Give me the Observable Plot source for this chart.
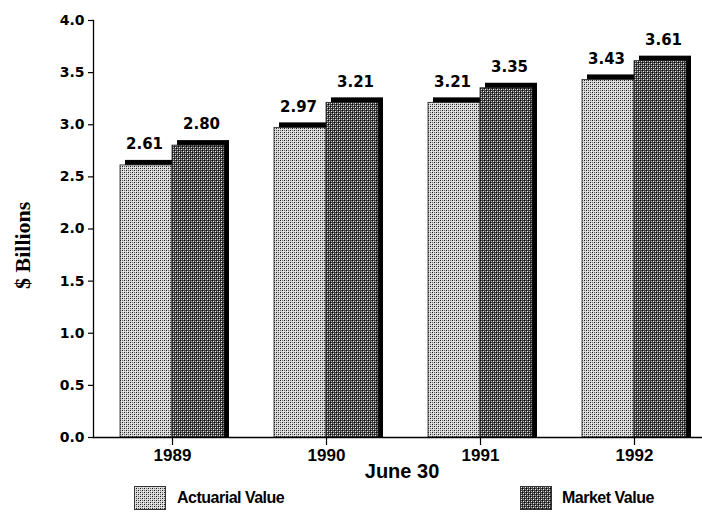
<!DOCTYPE html>
<html>
<head>
<meta charset="utf-8">
<script src="https://cdn.jsdelivr.net/npm/d3@7"></script>
<script src="https://cdn.jsdelivr.net/npm/@observablehq/plot@0.6"></script>
<style>
  body { margin: 0; background: #fff; width: 702px; }
  #legend { position: relative; height: 26px; width: 702px;
    font-family: "Liberation Sans", Arial, sans-serif; font-weight: bold; font-size: 16px; letter-spacing: -0.5px; color: #000; }
  #legend .sw { position: absolute; top: 0px; width: 32px; height: 24px; }
  #legend .lb { position: absolute; top: 3px; line-height: 18px; white-space: nowrap; }
</style>
</head>
<body>
<div id="chart"></div>
<div id="legend"></div>
<script>
// ---- data ----
const years = ["1989", "1990", "1991", "1992"];
const actuarial = [2.61, 2.97, 3.21, 3.43];
const market = [2.80, 3.21, 3.35, 3.61];
const seriesNames = ["Actuarial Value", "Market Value"];
const yTicks = [0, 0.5, 1.0, 1.5, 2.0, 2.5, 3.0, 3.5, 4.0];
const xTitle = "June 30";
const yTitle = "$ Billions";

const act = years.map((y, i) => ({year: y, value: actuarial[i]}));
const mkt = years.map((y, i) => ({year: y, value: market[i]}));

const fillA = "url(#patA)";
const fillM = "url(#patM)";
const numFont = "DejaVu Sans";

const chart = Plot.plot({
  width: 702,
  height: 486,
  marginLeft: 93,
  marginRight: 0,
  marginTop: 20,
  marginBottom: 49,
  style: {background: "#fff", color: "#000"},
  x: {domain: years, range: [120, 686], paddingInner: 0.3247, paddingOuter: 0, axis: null},
  y: {domain: [0, 4], axis: null},
  marks: [
    // 3D black shadow (top cap + right side)
    Plot.barY(act, {x: "year", y: "value", fill: "#000", insetRight: 52, insetBottom: -5, dx: 5, dy: -5}),
    Plot.barY(mkt, {x: "year", y: "value", fill: "#000", insetLeft: 52, insetBottom: -5, dx: 5, dy: -5}),
    // front faces
    Plot.barY(act, {x: "year", y: "value", fill: fillA, stroke: "#222", strokeWidth: 0.8, insetRight: 52}),
    Plot.barY(mkt, {x: "year", y: "value", fill: fillM, stroke: "#222", strokeWidth: 0.8, insetLeft: 52}),
    // axes
    Plot.ruleY([0], {stroke: "#000", strokeWidth: 1.3}),
    Plot.frame({anchor: "left", stroke: "#000", strokeWidth: 1.3}),
    Plot.axisY({ticks: yTicks, tickSize: 5, tickPadding: 4, tickFormat: d => d.toFixed(1),
      label: null, fontFamily: numFont, fontWeight: "bold", fontSize: 14, strokeWidth: 1.2}),
    Plot.axisX({tickSize: 8, tickPadding: 3, label: null,
      fontFamily: "Liberation Sans", fontWeight: "bold", fontSize: 17, strokeWidth: 1.2}),
    // value labels
    Plot.text(act, {x: "year", y: "value", text: d => d.value.toFixed(2), dx: -28, dy: -21,
      fontFamily: numFont, fontWeight: "bold", fontSize: 15}),
    Plot.text(mkt, {x: "year", y: "value", text: d => d.value.toFixed(2), dx: 29, dy: -21,
      fontFamily: numFont, fontWeight: "bold", fontSize: 15}),
    // titles
    Plot.text([xTitle], {frameAnchor: "bottom", dx: 4, dy: 40, fontFamily: "Liberation Sans",
      fontWeight: "bold", fontSize: 20}),
    Plot.text([yTitle], {frameAnchor: "left", rotate: -90, dx: -71, dy: 60, fontFamily: "Liberation Serif",
      fontWeight: "bold", fontSize: 22})
  ]
});

// halftone-like patterns
d3.select(chart).insert("defs", ":first-child").html(`
  <pattern id="patA" patternUnits="userSpaceOnUse" width="4" height="4">
    <rect width="4" height="4" fill="#d6d6d6"/>
    <rect x="0" y="0" width="1" height="1" fill="#1a1a1a"/>
    <rect x="2" y="2" width="1" height="1" fill="#1a1a1a"/>
    <rect x="2" y="0" width="1" height="1" fill="#707070"/>
    <rect x="0" y="2" width="1" height="1" fill="#707070"/>
    <rect x="1" y="1" width="1" height="1" fill="#f4f4f4"/>
    <rect x="3" y="3" width="1" height="1" fill="#f4f4f4"/>
  </pattern>
  <pattern id="patM" patternUnits="userSpaceOnUse" width="4" height="4">
    <rect width="4" height="4" fill="#424242"/>
    <rect x="1" y="1" width="1" height="1" fill="#f0f0f0"/>
    <rect x="3" y="3" width="1" height="1" fill="#f0f0f0"/>
    <rect x="1" y="3" width="1" height="1" fill="#a8a8a8"/>
    <rect x="3" y="1" width="1" height="1" fill="#a8a8a8"/>
    <rect x="0" y="0" width="1" height="1" fill="#000"/>
    <rect x="2" y="2" width="1" height="1" fill="#000"/>
  </pattern>`);

document.getElementById("chart").appendChild(chart);

// legend
const legend = document.getElementById("legend");
const legendItems = [
  {name: seriesNames[0], fill: fillA, sw: 134, lb: 177},
  {name: seriesNames[1], fill: fillM, sw: 520, lb: 562}
];
for (const it of legendItems) {
  const s = document.createElementNS("http://www.w3.org/2000/svg", "svg");
  s.setAttribute("class", "sw");
  s.setAttribute("width", 32); s.setAttribute("height", 24);
  s.style.left = it.sw + "px";
  s.innerHTML = `<rect x="0.5" y="0.5" width="31" height="23" fill="${it.fill}" stroke="#333" stroke-width="1"/>`;
  legend.appendChild(s);
  const t = document.createElement("div");
  t.className = "lb";
  t.style.left = it.lb + "px";
  t.textContent = it.name;
  legend.appendChild(t);
}
</script>
</body>
</html>
